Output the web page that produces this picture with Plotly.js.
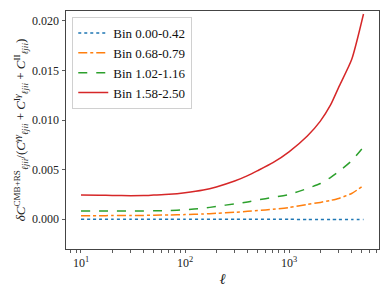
<!DOCTYPE html>
<html>
<head>
<meta charset="utf-8">
<script src="https://cdn.plot.ly/plotly-3.0.1.min.js"></script>
<style>
  html, body { margin: 0; padding: 0; background: #fff; }
  #chart { width: 390px; height: 293px; }
</style>
</head>
<body>
<div id="chart"></div>
<script>
// multipoles
var ell = [10, 15, 20, 30, 40, 50, 70, 100, 150, 200, 300, 400, 500, 700,
           1000, 1500, 2000, 2500, 3000, 4000, 5200];

// relative CMB+RS contribution per tomographic bin
var bin1 = [0.0, 0.0, 0.0, 0.0, 0.0, 0.0, 0.0, 0.0, 0.0, 0.0, 0.0, 0.0, 0.0, -0.00001,
            -0.00001, -0.00002, -0.00002, -0.00002, -0.00003, -0.00003, -0.00003];
var bin2 = [0.00036, 0.00036, 0.00037, 0.00038, 0.00039, 0.00041, 0.00043, 0.00047, 0.00053, 0.0006,
            0.0007, 0.0008, 0.00088, 0.001, 0.00118, 0.0015, 0.0017, 0.0019, 0.0021, 0.0026, 0.0034];
var bin3 = [0.00082, 0.00082, 0.00083, 0.00083, 0.00084, 0.00085, 0.00088, 0.00096, 0.0011, 0.0013,
            0.00155, 0.00175, 0.00195, 0.0022, 0.0025, 0.0031, 0.0036, 0.0042, 0.0048, 0.0059, 0.0073];
var bin4 = [0.00245, 0.00242, 0.0024, 0.00238, 0.00239, 0.00244, 0.00252, 0.00268, 0.00295, 0.00326,
            0.00385, 0.0044, 0.0049, 0.0057, 0.0068, 0.0084, 0.0099, 0.0115, 0.0133, 0.0161, 0.0207];

var names = ['Bin 0.00-0.42', 'Bin 0.68-0.79', 'Bin 1.02-1.16', 'Bin 1.58-2.50'];

// log minor tick positions
var minorTicks = [8, 9, 20, 30, 40, 50, 60, 70, 80, 90, 200, 300, 400, 500, 600, 700, 800, 900,
                  2000, 3000, 4000, 5000, 6000, 7000];

var serif = 'Liberation Serif, DejaVu Serif, serif';

function makeTrace(y, name, color, dash) {
    return {
        x: ell,
        y: y,
        name: name,
        type: 'scatter',
        mode: 'lines',
        line: { color: color, width: 1.5, dash: dash, shape: 'spline', smoothing: 0.6 }
    };
}

var data = [
    makeTrace(bin1, names[0], '#1f77b4', 'dot'),
    makeTrace(bin2, names[1], '#ff7f0e', 'dashdot'),
    makeTrace(bin3, names[2], '#2ca02c', 'dash'),
    makeTrace(bin4, names[3], '#d62728', 'solid')
];

var sub = '<sub><i>ℓjii</i></sub>';
var ytitle = '<i>δC</i><sup>CMB+RS</sup>' + sub + '/(<i>C</i><sup><i>γγ</i></sup>' + sub +
             ' + <i>C</i><sup>I<i>γ</i></sup>' + sub + ' + <i>C</i><sup>II</sup>' + sub + ')';

// major decades labelled, minor ticks unlabelled
var tickVals = [10, 100, 1000].concat(minorTicks);
var tickText = ['10<sup>1</sup>', '10<sup>2</sup>', '10<sup>3</sup>'].concat(minorTicks.map(function () { return ''; }));

var layout = {
    width: 390,
    height: 293,
    margin: { l: 66, r: 11, t: 11, b: 44 },
    paper_bgcolor: '#fff',
    plot_bgcolor: '#fff',
    font: { family: serif, size: 12, color: '#222' },
    showlegend: true,
    legend: {
        x: 0.02, y: 0.975, xanchor: 'left', yanchor: 'top',
        bgcolor: 'rgba(255,255,255,0.8)',
        bordercolor: '#d0d0d0', borderwidth: 1,
        font: { family: serif, size: 13, color: '#111' },
        itemwidth: 30,
        tracegroupgap: 0
    },
    xaxis: {
        type: 'log',
        range: [0.856, 3.865],
        tickmode: 'array',
        tickvals: tickVals,
        ticktext: tickText,
        ticks: 'outside', ticklen: 3, tickwidth: 0.8, tickcolor: '#333',
        showgrid: false, zeroline: false,
        showline: true, mirror: true, linecolor: '#444', linewidth: 1,
        title: { text: '<i>ℓ</i>', font: { family: serif, size: 15 }, standoff: 4 },
        tickfont: { family: serif, size: 12 }
    },
    yaxis: {
        range: [-0.0030, 0.0210],
        tickvals: [0, 0.005, 0.01, 0.015, 0.02],
        tickformat: '.3f',
        ticks: 'outside', ticklen: 3.5, tickwidth: 0.8, tickcolor: '#333',
        showgrid: false, zeroline: false,
        showline: true, mirror: true, linecolor: '#444', linewidth: 1,
        title: { text: ytitle, font: { family: serif, size: 13 }, standoff: 3 },
        tickfont: { family: serif, size: 12 }
    }
};

Plotly.newPlot('chart', data, layout, { displayModeBar: false, staticPlot: true });
</script>
</body>
</html>
